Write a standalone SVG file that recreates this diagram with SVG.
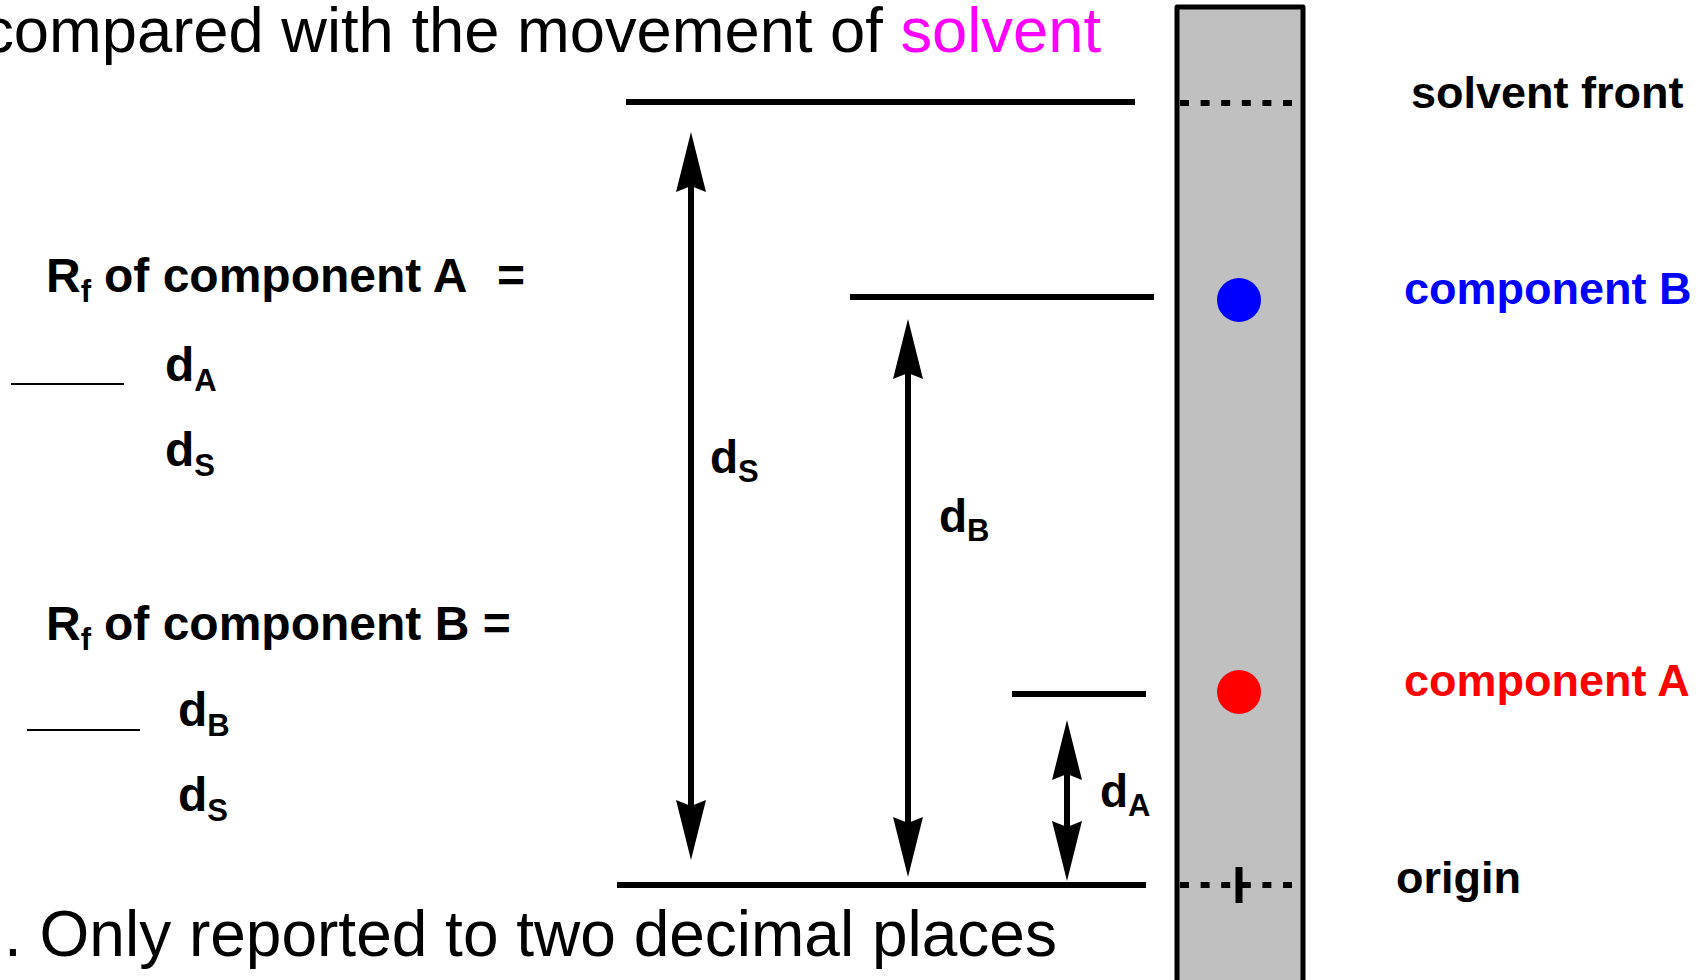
<svg xmlns="http://www.w3.org/2000/svg" width="1705" height="980" viewBox="0 0 1705 980">
<style>
.big{font-family:"Liberation Sans",Arial,sans-serif;font-size:64px;fill:#000}
.b{font-family:"Liberation Sans",Arial,sans-serif;font-weight:bold;fill:#000}
.f48{font-size:48px}
.f45{font-size:45px}
.f46{font-size:46px}
.sub{font-size:31px}
.lvl{stroke:#000;stroke-width:6;fill:none}
.dash{stroke:#000;stroke-width:6;stroke-dasharray:9 11.6;fill:none}
.frac{stroke:#000;stroke-width:2;fill:none}
.shaft{stroke:#000;stroke-width:6;fill:none;marker-start:url(#ah);marker-end:url(#ah)}
</style>
<defs>
<marker id="ah" markerUnits="userSpaceOnUse" viewBox="-62 -17 66 34" refX="-30" refY="0" markerWidth="66" markerHeight="34" orient="auto-start-reverse">
<path d="M0,0 L-60,-15 L-54,0 L-60,15 Z" fill="#000"/>
</marker>
</defs>
<rect width="1705" height="980" fill="#fff"/>

<g id="title-top">
<text class="big" x="1101" y="52" text-anchor="end" style="font-size:63.3px">compared with the movement of <tspan fill="#ff00ff">solvent</tspan></text>
</g>
<g id="note-bottom">
<text class="big" x="4" y="956">. Only reported to two decimal places</text>
</g>

<g id="plate">
<rect x="1177" y="7" width="126" height="990" fill="#c0c0c0" stroke="#000" stroke-width="5" stroke-linejoin="round"/>
<line class="dash" x1="1180" y1="103" x2="1294" y2="103"/>
<line class="dash" x1="1180" y1="885" x2="1294" y2="885"/>
<line x1="1239" y1="867" x2="1239" y2="903" stroke="#000" stroke-width="7"/>
</g>
<g id="spot-b"><circle cx="1239" cy="300" r="22" fill="#0000ff"/></g>
<g id="spot-a"><circle cx="1239" cy="692" r="22" fill="#ff0000"/></g>

<g id="label-solvent-front"><text class="b f45" x="1411" y="108">solvent front</text></g>
<g id="label-component-b"><text class="b f45" x="1404" y="304" style="fill:#0000ff">component B</text></g>
<g id="label-component-a"><text class="b f45" x="1404" y="696" style="fill:#ff0000">component A</text></g>
<g id="label-origin"><text class="b f45" x="1396" y="893">origin</text></g>

<g id="formula-a">
<text class="b f48" x="46" y="292">R<tspan class="sub" dy="10">f</tspan><tspan x="104" dy="-10">of component A</tspan><tspan x="497">=</tspan></text>
<line class="frac" x1="11" y1="384" x2="124" y2="384"/>
<text class="b f48" x="165" y="381">d<tspan class="sub" dy="10">A</tspan></text>
<text class="b f48" x="165" y="466">d<tspan class="sub" dy="10">S</tspan></text>
</g>
<g id="formula-b">
<text class="b f48" x="46" y="640">R<tspan class="sub" dy="10">f</tspan><tspan x="104" dy="-10">of component B =</tspan></text>
<line class="frac" x1="27" y1="730" x2="140" y2="730"/>
<text class="b f48" x="178" y="726">d<tspan class="sub" dy="10">B</tspan></text>
<text class="b f48" x="178" y="811">d<tspan class="sub" dy="10">S</tspan></text>
</g>

<g id="levels">
<line class="lvl" x1="626" y1="102" x2="1135" y2="102"/>
<line class="lvl" x1="850" y1="297" x2="1154" y2="297"/>
<line class="lvl" x1="1012" y1="694" x2="1146" y2="694"/>
<line class="lvl" x1="617" y1="885" x2="1146" y2="885"/>
</g>

<g id="connectors">
<line class="shaft" x1="691" y1="162" x2="691" y2="830"/>
<line class="shaft" x1="908" y1="349" x2="908" y2="847"/>
<line class="shaft" x1="1067" y1="750" x2="1067" y2="851"/>
</g>

<g id="label-ds"><text class="b f46" x="710" y="473">d<tspan class="sub" dy="9">S</tspan></text></g>
<g id="label-db"><text class="b f46" x="939" y="532">d<tspan class="sub" dy="9">B</tspan></text></g>
<g id="label-da"><text class="b f46" x="1100" y="807">d<tspan class="sub" dy="9">A</tspan></text></g>
</svg>
